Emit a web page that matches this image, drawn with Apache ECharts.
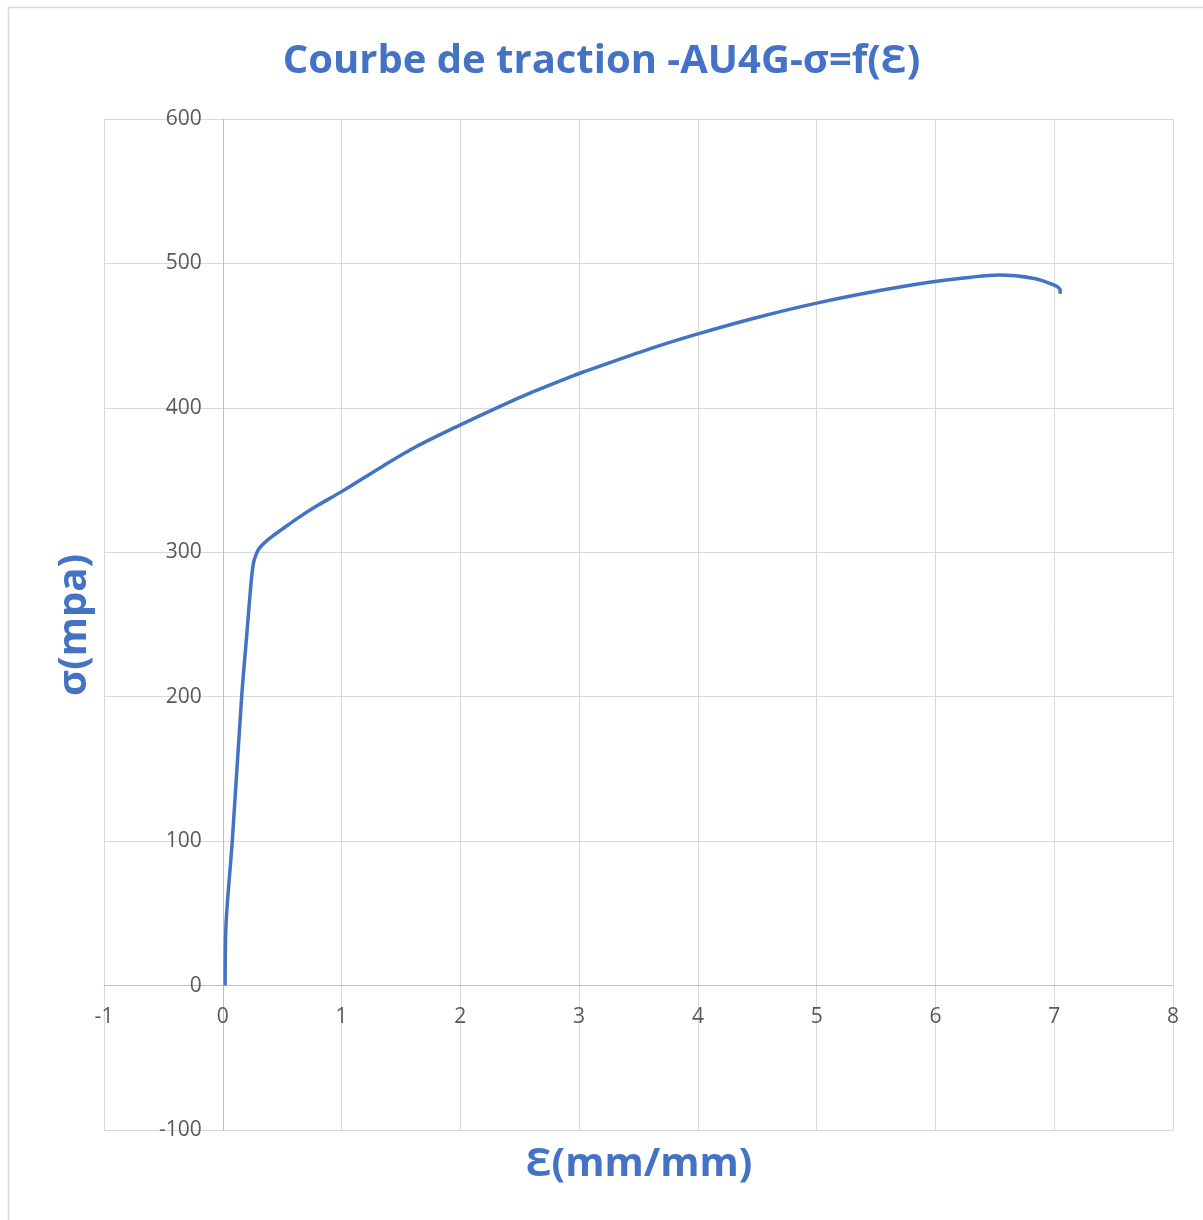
<!DOCTYPE html>
<html>
<head>
<meta charset="utf-8">
<script src="https://cdn.jsdelivr.net/npm/echarts@6/dist/echarts.min.js"></script>
<style>
html,body{margin:0;padding:0;background:#fff;}
#chart{width:1203px;height:1220px;}
</style>
</head>
<body>
<div id="chart"></div>
<script>
const titleText = 'Courbe de traction -AU4G-σ=f(Ɛ)';
const xAxisName = 'Ɛ(mm/mm)';
const yAxisName = 'σ(mpa)';
const strain = [0.02, 0.027, 0.08, 0.159, 0.2, 0.235, 0.257, 0.285, 0.32, 0.397, 0.5, 0.65, 0.8, 1.0, 1.35, 1.63, 2.0, 2.33, 2.61, 2.9, 3.0, 3.57, 4.0, 4.49, 5.0, 5.53, 5.95, 6.3, 6.54, 6.82, 7.0, 7.05, 7.05];
const stress = [0, 42, 100, 200, 241, 276, 292, 299.4, 304, 309.8, 316, 324.7, 332.5, 342, 359.8, 373.2, 388.2, 400.9, 411.0, 420.6, 423.8, 440.2, 451.2, 462.4, 472.5, 481.2, 487, 490.5, 492, 489.8, 485, 481.5, 479];

const FONT = '"Open Sans", "Noto Sans", sans-serif';
const BLUE = '#4472C4';
const data = strain.map((x, i) => [x, stress[i]]);

const GRID = {left: 104, right: 30, top: 119, bottom: 90};
const X_MIN = -1, X_MAX = 8, Y_MIN = -100, Y_MAX = 600;
const plotW = 1203 - GRID.left - GRID.right;
const plotH = 1220 - GRID.top - GRID.bottom;
// shift the axes (with their labels) so they cross at zero, as in the original
const xAxisOffset = -plotH * (0 - Y_MIN) / (Y_MAX - Y_MIN);
const yAxisOffset = -plotW * (0 - X_MIN) / (X_MAX - X_MIN);

const chart = echarts.init(document.getElementById('chart'), null, {renderer: 'canvas'});
chart.setOption({
  backgroundColor: '#ffffff',
  animation: false,
  title: {
    text: titleText,
    left: 'center',
    top: 37,
    textStyle: {color: BLUE, fontSize: 40, fontWeight: 'bold', fontFamily: FONT}
  },
  grid: Object.assign({containLabel: false}, GRID),
  xAxis: {
    type: 'value', min: X_MIN, max: X_MAX, interval: 1,
    position: 'bottom', offset: xAxisOffset,
    axisLine: {show: true, onZero: false, lineStyle: {color: '#bfbfbf', width: 1}},
    axisTick: {show: false},
    axisLabel: {color: '#595959', fontSize: 21, fontFamily: FONT, margin: 21, showMinLabel: true, showMaxLabel: true},
    splitLine: {show: true, lineStyle: {color: '#d9d9d9', width: 1}}
  },
  yAxis: {
    type: 'value', min: Y_MIN, max: Y_MAX, interval: 100,
    position: 'left', offset: yAxisOffset,
    axisLine: {show: true, onZero: false, lineStyle: {color: '#bfbfbf', width: 1}},
    axisTick: {show: false},
    axisLabel: {color: '#595959', fontSize: 21, fontFamily: FONT, margin: 21, showMinLabel: true, showMaxLabel: true},
    splitLine: {show: true, lineStyle: {color: '#d9d9d9', width: 1}}
  },
  graphic: [
    {type: 'rect', z: -10, silent: true, shape: {x: 8.5, y: 7.5, width: 1300, height: 1300},
     style: {fill: 'none', stroke: '#d9d9d9', lineWidth: 1.5}},
    {type: 'text', x: 75, y: 625, rotation: Math.PI / 2,
     style: {text: yAxisName, font: 'bold 40px ' + FONT, fill: BLUE, textAlign: 'center', textVerticalAlign: 'middle'}},
    {type: 'text', x: 639, y: 1165,
     style: {text: xAxisName, font: 'bold 40px ' + FONT, fill: BLUE, textAlign: 'center', textVerticalAlign: 'middle'}}
  ],
  series: [{
    type: 'line',
    data: data,
    showSymbol: false,
    symbol: 'none',
    smooth: 0.3,
    lineStyle: {color: BLUE, width: 3.5},
    itemStyle: {color: BLUE}
  }]
});
</script>
</body>
</html>
